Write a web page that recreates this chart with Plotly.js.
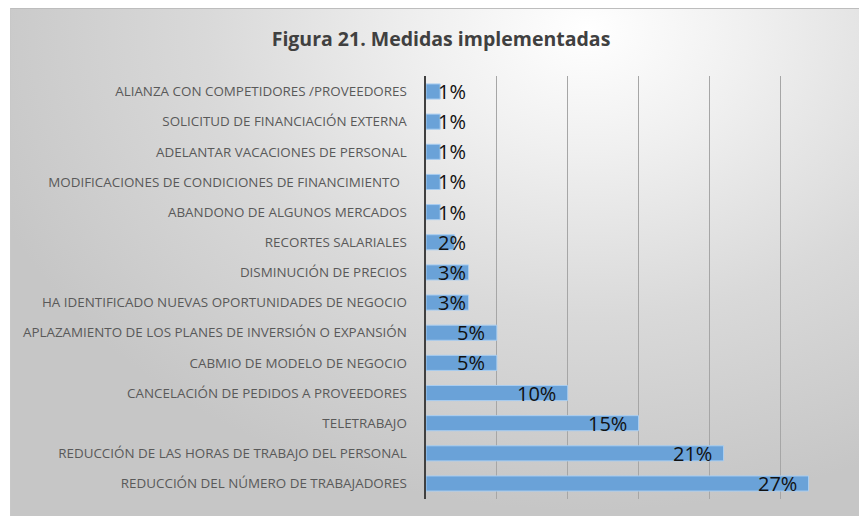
<!DOCTYPE html>
<html>
<head>
<meta charset="utf-8">
<script src="https://cdn.plot.ly/plotly-3.0.1.min.js"></script>
<style>
  html, body { margin: 0; padding: 0; background: #ffffff; width: 859px; height: 516px; overflow: hidden; }
  #frame {
    position: absolute; left: 10px; top: 8px; width: 849px; height: 508px;
    background: radial-gradient(ellipse 75% 95% at 68% 4%, #ffffff 0%, #f0f0f0 25%, #d9d9d9 60%, #c6c6c6 100%);
    border-top: 1px solid #bdbdbd; border-left: 1px solid #c8c8c8; box-sizing: border-box;
  }
  #chart { position: absolute; left: 0; top: 0; width: 849px; height: 508px; }
</style>
</head>
<body>
<div id="frame"><div id="chart"></div></div>
<script>
const chartTitle = "Figura 21. Medidas implementadas";
const categories = [
  "ALIANZA CON COMPETIDORES /PROVEEDORES",
  "SOLICITUD DE FINANCIACIÓN EXTERNA",
  "ADELANTAR VACACIONES DE PERSONAL",
  "MODIFICACIONES DE CONDICIONES DE FINANCIMIENTO\u00a0\u00a0",
  "ABANDONO DE ALGUNOS MERCADOS",
  "RECORTES SALARIALES",
  "DISMINUCIÓN DE PRECIOS",
  "HA IDENTIFICADO NUEVAS OPORTUNIDADES DE NEGOCIO",
  "APLAZAMIENTO DE LOS PLANES DE INVERSIÓN O EXPANSIÓN",
  "CABMIO DE MODELO DE NEGOCIO",
  "CANCELACIÓN DE PEDIDOS A PROVEEDORES",
  "TELETRABAJO",
  "REDUCCIÓN DE LAS HORAS DE TRABAJO DEL PERSONAL",
  "REDUCCIÓN DEL NÚMERO DE TRABAJADORES"
];
const values = [1, 1, 1, 1, 1, 2, 3, 3, 5, 5, 10, 15, 21, 27];
const valueLabels = values.map(v => v + "%");
const xTicks = [0, 5, 10, 15, 20, 25, 30];

const trace = {
  type: "bar",
  orientation: "h",
  x: values,
  y: categories,
  marker: { color: "#6aa2d8", line: { color: "#a9cdf0", width: 1 } },
  hoverinfo: "none"
};

const annotations = values.map((v, i) => {
  const small = v <= 3;
  return {
    x: small ? 0 : v,
    y: categories[i],
    xref: "x", yref: "y",
    text: valueLabels[i],
    showarrow: false,
    xanchor: small ? "left" : "right",
    yanchor: "middle",
    xshift: small ? 10 : -10,
    font: { family: "Open Sans, sans-serif", size: 20, color: "#111111" }
  };
});

const layout = {
  width: 849, height: 508,
  paper_bgcolor: "rgba(0,0,0,0)",
  plot_bgcolor: "rgba(0,0,0,0)",
  margin: { l: 415, r: 9, t: 67, b: 18, pad: 0 },
  title: {
    text: "<b>" + chartTitle + "</b>",
    font: { family: "Open Sans, sans-serif", size: 19.5, color: "#404040" },
    xref: "container", x: 0.5065, xanchor: "center",
    yref: "container", y: 0.941, yanchor: "middle"
  },
  bargap: 0.5,
  showlegend: false,
  xaxis: {
    range: [0, 30],
    tickvals: xTicks,
    showticklabels: false,
    showgrid: true, gridcolor: "#a6a6a6", gridwidth: 1,
    zeroline: false, showline: false, ticks: "", fixedrange: true
  },
  yaxis: {
    type: "category",
    autorange: "reversed",
    showline: true, linecolor: "#404040", linewidth: 2.5,
    showgrid: false, zeroline: false,
    ticks: "outside", ticklen: 0, ticklabelstandoff: 14,
    tickfont: { family: "Open Sans, sans-serif", size: 13.4, color: "#595959" },
    fixedrange: true
  },
  annotations: annotations
};

Plotly.newPlot("chart", [trace], layout, { displayModeBar: false, staticPlot: true });
</script>
</body>
</html>
